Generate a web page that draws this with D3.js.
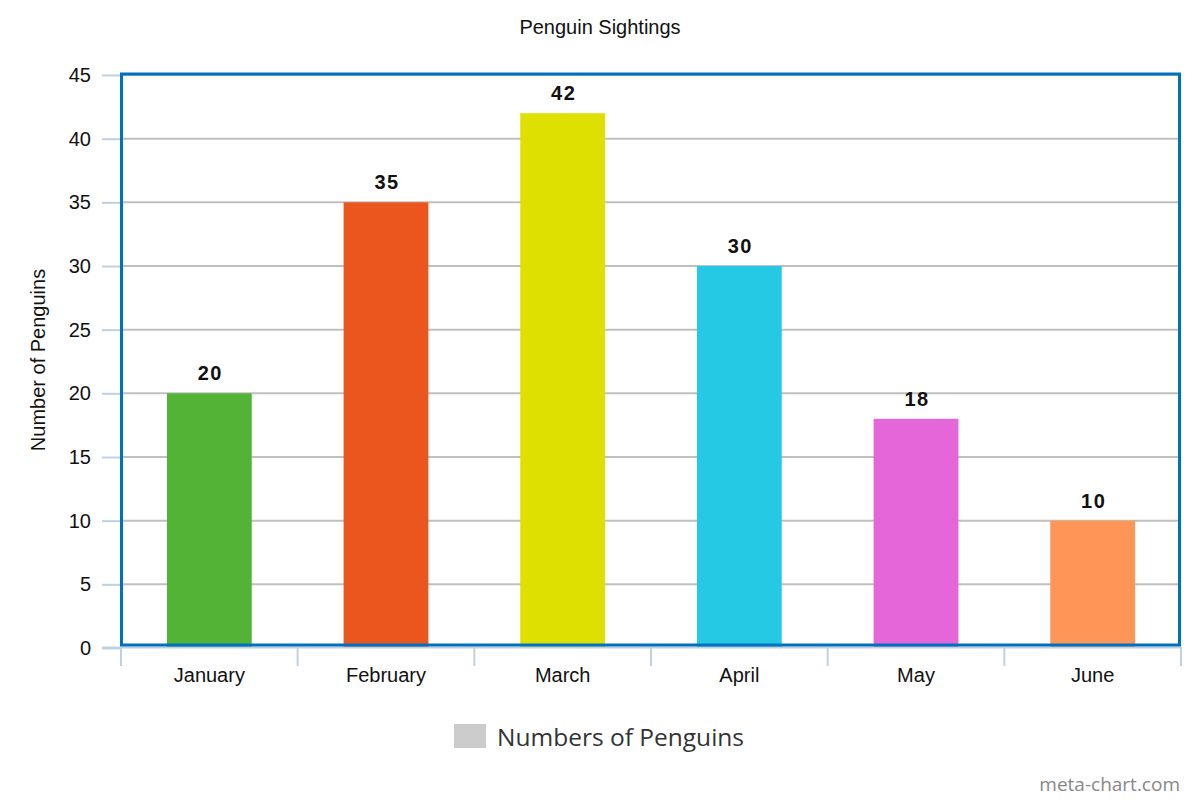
<!DOCTYPE html>
<html><head><meta charset="utf-8">
<script src="https://cdn.jsdelivr.net/npm/d3@7"></script>
<style>body{margin:0;background:#fff}svg{display:block}</style>
</head><body>
<svg id="c" width="1200" height="800"></svg>
<script>
const categories = ["January","February","March","April","May","June"];
const values = [20,35,42,30,18,10];
const barColors = ["#52b336","#eb561e","#dde000","#26c9e3","#e466d8","#ff9557"];
const yTicks = [0,5,10,15,20,25,30,35,40,45];
const title = "Penguin Sightings";
const yTitle = "Number of Penguins";
const legendLabel = "Numbers of Penguins";

const FONT = "Liberation Sans, Arial, sans-serif";
const svg = d3.select("#c");
const L = 121, R = 1181, T = 75, B = 648;
const x = d3.scaleBand().domain(categories).range([L, R]).paddingInner(0.52).paddingOuter(0.26);
const xt = d3.scaleBand().domain(categories).range([L, R]);
const y = d3.scaleLinear().domain([0,45]).range([B, T]);

// gridlines
svg.append("g").selectAll("line").data(yTicks.slice(1)).join("line")
  .attr("x1", L).attr("x2", R).attr("y1", d=>y(d)).attr("y2", d=>y(d))
  .attr("stroke", "#c0c0c0").attr("stroke-width", 2);

// y axis
const ya = svg.append("g").attr("transform", `translate(${L},0)`)
  .call(d3.axisLeft(y).tickValues(yTicks).tickSize(19).tickPadding(11));
ya.select(".domain").remove();
ya.selectAll(".tick line").attr("stroke", "#c0d0e0").attr("stroke-width", 2);
ya.selectAll(".tick text").attr("font-family", FONT).attr("font-size", 20).attr("fill", "#111");

// bars
svg.append("g").selectAll("rect").data(values).join("rect")
  .attr("x", (d,i)=>x(categories[i])).attr("width", x.bandwidth())
  .attr("y", d=>y(d)).attr("height", d=>y(0)-y(d))
  .attr("fill", (d,i)=>barColors[i]);

// value labels
svg.append("g").selectAll("text").data(values).join("text")
  .attr("x", (d,i)=>x(categories[i]) + x.bandwidth()/2 + 1)
  .attr("y", d=>y(d) - 13)
  .attr("text-anchor", "middle")
  .attr("font-family", FONT)
  .attr("font-weight", "bold").attr("font-size", 20).attr("letter-spacing", 1.5)
  .attr("fill", "#111")
  .text(d=>d);

// x axis
const xa = svg.append("g").attr("transform", `translate(0,${B-1})`)
  .call(d3.axisBottom(xt).tickSize(0).tickPadding(21));
xa.select(".domain").attr("stroke", "#c0d0e0").attr("stroke-width", 2)
  .attr("d", `M${102},0.5H${R}`);
xa.selectAll(".tick text").attr("font-family", FONT).attr("font-size", 20).attr("fill", "#111");
svg.append("g").selectAll("line").data(d3.range(categories.length+1)).join("line")
  .attr("x1", i=> i<categories.length ? xt(categories[i]) : R)
  .attr("x2", i=> i<categories.length ? xt(categories[i]) : R)
  .attr("y1", B-1).attr("y2", B+18)
  .attr("stroke", "#c0d0e0").attr("stroke-width", 2);

// plot border
svg.append("rect").attr("x", L+0.5).attr("y", 74).attr("width", R-L-2).attr("height", 645-74)
  .attr("fill", "none").attr("stroke", "#0070c0").attr("stroke-width", 3);

// title
svg.append("text").attr("x", 600).attr("y", 34).attr("text-anchor", "middle")
  .attr("font-family", FONT).attr("font-size", 20).attr("fill", "#111").text(title);
// y title
svg.append("text").attr("transform", "translate(45,360) rotate(-90)").attr("text-anchor", "middle")
  .attr("font-family", FONT).attr("font-size", 20).attr("fill", "#111").text(yTitle);

// legend
svg.append("rect").attr("x", 454).attr("y", 724).attr("width", 32).attr("height", 24).attr("fill", "#cccccc");
svg.append("text").attr("x", 497).attr("y", 746)
  .attr("font-family", "Open Sans, DejaVu Sans, sans-serif").attr("font-size", 24.5).attr("fill", "#333").text(legendLabel);

// watermark
svg.append("text").attr("x", 1180).attr("y", 791).attr("text-anchor", "end")
  .attr("font-family", "Open Sans, DejaVu Sans, sans-serif").attr("font-size", 19).attr("fill", "#888").text("meta-chart.com");
</script>
</body></html>
